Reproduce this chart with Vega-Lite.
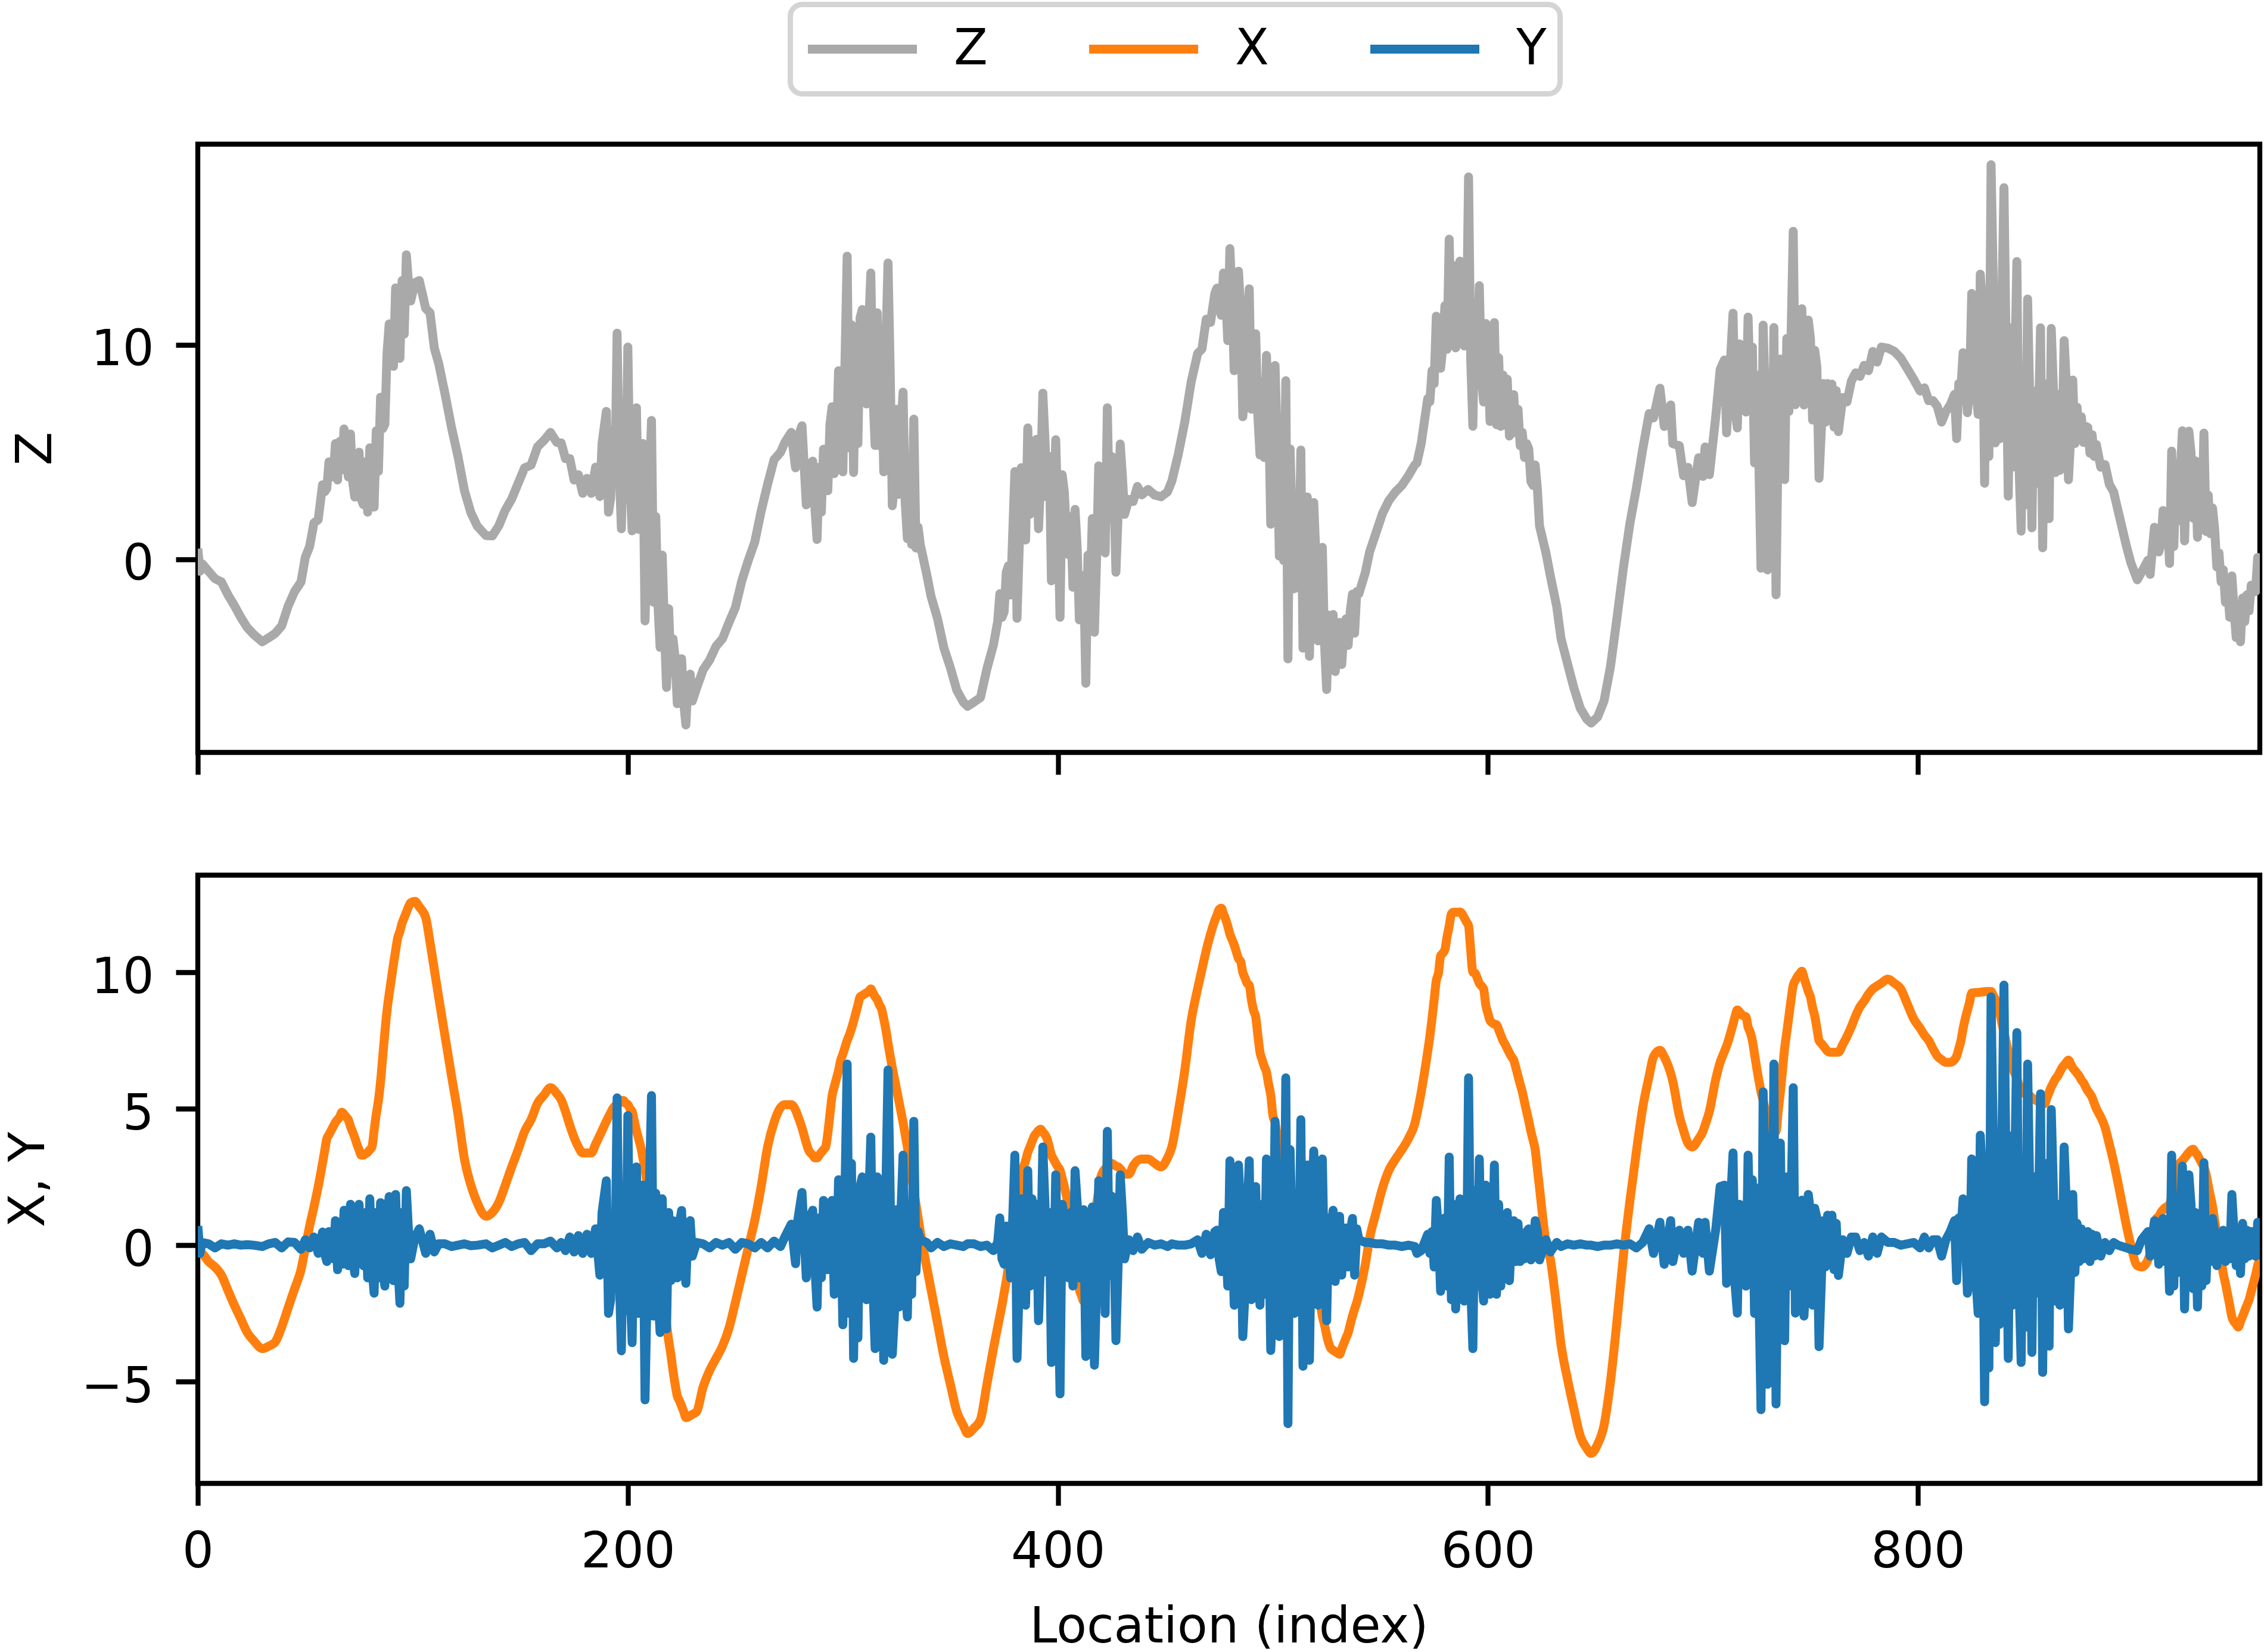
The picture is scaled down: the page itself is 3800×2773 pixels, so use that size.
{
"$schema": "https://vega.github.io/schema/vega-lite/v6.json",
"padding": {"left": 2, "top": 3, "right": 2, "bottom": 2},
"background": "white",
"config": {
  "font": "DejaVu Sans",
  "view": {"stroke": "black", "strokeWidth": 8.3},
  "axis": {"domain": false, "grid": false, "tickColor": "black", "tickWidth": 8.3, "tickSize": 37, "labelFont": "DejaVu Sans", "labelFontSize": 83, "labelColor": "black", "titleFont": "DejaVu Sans", "titleFontSize": 83, "titleFontWeight": "normal", "titleColor": "black", "labelFlush": false, "labelOverlap": false},
  "legend": {"strokeColor": "#d4d4d4", "strokeWidth": 9, "cornerRadius": 20, "padding": 22, "fillColor": "white"},
  "line": {"strokeWidth": 15, "strokeJoin": "round", "strokeCap": "butt"}
},
"datasets": {"d": [
{"i":0,"X":-0.2,"Y":0.7,"Z":0.5},{"i":1,"X":-0.25,"Y":-0.3,"Z":-0.55},{"i":2,"X":-0.3,"Y":0.1,"Z":-0.2},{"i":5,"X":-0.6,"Y":0.05,"Z":-0.55},{"i":8,"X":-0.8,"Y":-0.1,"Z":-0.9},{"i":11,"X":-1.1,"Y":0.05,"Z":-1.05},{"i":14,"X":-1.65,"Y":0,"Z":-1.65},{"i":17,"X":-2.2,"Y":0.05,"Z":-2.15},{"i":20,"X":-2.7,"Y":0,"Z":-2.7},{"i":23,"X":-3.2,"Y":0.02,"Z":-3.18},{"i":26,"X":-3.5,"Y":0,"Z":-3.5},{"i":30,"X":-3.79,"Y":-0.05,"Z":-3.84},{"i":33,"X":-3.7,"Y":0.05,"Z":-3.65},{"i":36,"X":-3.55,"Y":0.1,"Z":-3.45},{"i":39,"X":-3.0,"Y":-0.1,"Z":-3.1},{"i":42,"X":-2.3,"Y":0.12,"Z":-2.18},{"i":45,"X":-1.6,"Y":0.1,"Z":-1.5},{"i":48,"X":-0.9,"Y":-0.15,"Z":-1.05},{"i":50,"X":-0.1,"Y":0.2,"Z":0.1},{"i":52,"X":0.7,"Y":-0.1,"Z":0.6},{"i":54,"X":1.4,"Y":0.3,"Z":1.7},{"i":56,"X":2.15,"Y":-0.3,"Z":1.85},{"i":58,"X":3.0,"Y":0.48,"Z":3.48},{"i":60,"X":3.9,"Y":-0.6,"Z":3.3},{"i":62,"X":4.2,"Y":0.3,"Z":4.5},{"i":64,"X":4.5,"Y":0.9,"Z":5.4},{"i":65,"X":4.6,"Y":-0.9,"Z":3.7},{"i":68,"X":4.8,"Y":1.28,"Z":6.08},{"i":70,"X":4.6,"Y":-0.75,"Z":3.85},{"i":71,"X":4.35,"Y":1.5,"Z":5.85},{"i":73,"X":3.95,"Y":-1.04,"Z":2.91},{"i":75,"X":3.5,"Y":1.5,"Z":5.0},{"i":77,"X":3.3,"Y":-0.75,"Z":2.55},{"i":80,"X":3.5,"Y":1.7,"Z":5.2},{"i":82,"X":4.2,"Y":-1.76,"Z":2.44},{"i":85,"X":6.0,"Y":1.56,"Z":7.56},{"i":87,"X":7.8,"Y":-1.5,"Z":6.3},{"i":89,"X":9.2,"Y":1.78,"Z":10.98},{"i":91,"X":10.3,"Y":-1.3,"Z":9.0},{"i":92,"X":10.8,"Y":1.86,"Z":12.66},{"i":94,"X":11.5,"Y":-2.13,"Z":9.37},{"i":97,"X":12.2,"Y":2.0,"Z":14.2},{"i":99,"X":12.55,"Y":-0.5,"Z":12.05},{"i":101,"X":12.6,"Y":0.3,"Z":12.9},{"i":103,"X":12.4,"Y":0.6,"Z":13.0},{"i":106,"X":12.0,"Y":-0.3,"Z":11.7},{"i":108,"X":11.1,"Y":0.4,"Z":11.5},{"i":110,"X":10.1,"Y":-0.25,"Z":9.85},{"i":112,"X":9.1,"Y":0.05,"Z":9.15},
{"i":115,"X":7.65,"Y":0.05,"Z":7.7},{"i":118,"X":6.2,"Y":-0.05,"Z":6.15},{"i":121,"X":4.8,"Y":0,"Z":4.8},{"i":124,"X":3.16,"Y":0.05,"Z":3.21},{"i":127,"X":2.2,"Y":-0.02,"Z":2.18},{"i":130,"X":1.55,"Y":0,"Z":1.55},{"i":134,"X":1.06,"Y":0.05,"Z":1.11},{"i":137,"X":1.2,"Y":-0.1,"Z":1.1},{"i":140,"X":1.57,"Y":0,"Z":1.57},{"i":143,"X":2.2,"Y":0.1,"Z":2.3},{"i":146,"X":2.87,"Y":-0.05,"Z":2.82},{"i":149,"X":3.5,"Y":0.05,"Z":3.55},{"i":152,"X":4.17,"Y":0.1,"Z":4.27},{"i":155,"X":4.6,"Y":-0.2,"Z":4.4},{"i":158,"X":5.2,"Y":0.05,"Z":5.25},{"i":161,"X":5.5,"Y":0.05,"Z":5.55},{"i":164,"X":5.77,"Y":0.15,"Z":5.92},{"i":167,"X":5.55,"Y":-0.1,"Z":5.45},{"i":169,"X":5.33,"Y":0.1,"Z":5.43},{"i":171,"X":4.9,"Y":-0.2,"Z":4.7},{"i":173,"X":4.4,"Y":0.3,"Z":4.7},{"i":175,"X":3.95,"Y":-0.25,"Z":3.7},{"i":177,"X":3.6,"Y":0.35,"Z":3.95},{"i":179,"X":3.38,"Y":-0.3,"Z":3.08},{"i":181,"X":3.38,"Y":0.4,"Z":3.78},{"i":183,"X":3.38,"Y":-0.3,"Z":3.08},{"i":185,"X":3.7,"Y":0.6,"Z":4.3},{"i":187,"X":4.03,"Y":-1.1,"Z":2.93},{"i":190,"X":4.54,"Y":2.36,"Z":6.9},{"i":191,"X":4.7,"Y":-2.5,"Z":2.2},{"i":193,"X":5.0,"Y":1.0,"Z":6.0},{"i":195,"X":5.15,"Y":5.4,"Z":10.55},{"i":197,"X":5.3,"Y":-3.87,"Z":1.43},{"i":200,"X":5.15,"Y":4.75,"Z":9.9},{"i":202,"X":4.9,"Y":-3.57,"Z":1.33},{"i":204,"X":4.2,"Y":2.87,"Z":7.07},{"i":206,"X":3.6,"Y":-1.0,"Z":2.6},{"i":208,"X":2.8,"Y":-5.67,"Z":-2.87},{"i":210,"X":1.6,"Y":2.0,"Z":3.6},{"i":211,"X":1.0,"Y":5.48,"Z":6.48},{"i":214,"X":-0.3,"Y":-1.8,"Z":-2.1},{"i":216,"X":-1.5,"Y":1.7,"Z":0.2},{"i":218,"X":-2.9,"Y":-3.07,"Z":-5.97},{"i":221,"X":-4.6,"Y":0.9,"Z":-3.7},{"i":223,"X":-5.53,"Y":-1.2,"Z":-6.73},{"i":225,"X":-5.9,"Y":1.27,"Z":-4.63},{"i":227,"X":-6.32,"Y":-1.4,"Z":-7.72},{"i":229,"X":-6.25,"Y":0.9,"Z":-5.35},{"i":230,"X":-6.2,"Y":-0.4,"Z":-6.6},{"i":232,"X":-6.1,"Y":0.1,"Z":-6.0},
{"i":235,"X":-5.2,"Y":0.05,"Z":-5.15},{"i":238,"X":-4.6,"Y":-0.1,"Z":-4.7},{"i":241,"X":-4.15,"Y":0.1,"Z":-4.05},{"i":244,"X":-3.7,"Y":0,"Z":-3.7},{"i":247,"X":-3.05,"Y":0.1,"Z":-2.95},{"i":250,"X":-2.1,"Y":-0.15,"Z":-2.25},{"i":253,"X":-1.1,"Y":0.1,"Z":-1.0},{"i":256,"X":-0.1,"Y":0.05,"Z":-0.05},{"i":259,"X":0.9,"Y":-0.1,"Z":0.8},{"i":262,"X":2.15,"Y":0.1,"Z":2.25},{"i":265,"X":3.6,"Y":-0.1,"Z":3.5},{"i":268,"X":4.5,"Y":0.15,"Z":4.65},{"i":271,"X":5.04,"Y":-0.05,"Z":4.99},{"i":273,"X":5.15,"Y":0.3,"Z":5.45},{"i":276,"X":5.15,"Y":0.77,"Z":5.92},{"i":278,"X":4.95,"Y":-0.68,"Z":4.27},{"i":281,"X":4.3,"Y":1.93,"Z":6.23},{"i":283,"X":3.74,"Y":-1.2,"Z":2.54},{"i":286,"X":3.3,"Y":1.28,"Z":4.58},{"i":288,"X":3.2,"Y":-2.27,"Z":0.93},{"i":291,"X":3.5,"Y":1.64,"Z":5.14},{"i":293,"X":4.1,"Y":-0.9,"Z":3.2},{"i":295,"X":5.48,"Y":1.64,"Z":7.12},{"i":297,"X":6.1,"Y":-0.9,"Z":5.2},{"i":299,"X":6.78,"Y":0.9,"Z":7.68},{"i":300,"X":7.0,"Y":-2.92,"Z":4.08},{"i":302,"X":7.5,"Y":6.64,"Z":14.14},{"i":305,"X":8.2,"Y":-4.15,"Z":4.05},{"i":308,"X":9.1,"Y":2.15,"Z":11.25},{"i":310,"X":9.2,"Y":-1.2,"Z":8.0},{"i":313,"X":9.39,"Y":3.96,"Z":13.35},{"i":315,"X":9.1,"Y":-3.79,"Z":5.31},{"i":318,"X":8.66,"Y":0.8,"Z":9.46},{"i":319,"X":8.3,"Y":-4.22,"Z":4.08},{"i":321,"X":7.4,"Y":6.42,"Z":13.82},{"i":323,"X":6.5,"Y":-4.0,"Z":2.5},{"i":325,"X":5.7,"Y":1.3,"Z":7.0},{"i":326,"X":5.3,"Y":-2.27,"Z":3.03},{"i":328,"X":4.5,"Y":3.3,"Z":7.8},{"i":330,"X":3.6,"Y":-2.63,"Z":0.97},{"i":333,"X":2.0,"Y":4.54,"Z":6.54},{"i":334,"X":1.5,"Y":-0.97,"Z":0.53},{"i":336,"X":0.5,"Y":0.2,"Z":0.7},
{"i":339,"X":-0.8,"Y":0.1,"Z":-0.7},{"i":341,"X":-1.62,"Y":-0.1,"Z":-1.72},{"i":344,"X":-2.85,"Y":0.1,"Z":-2.75},{"i":347,"X":-4.08,"Y":-0.05,"Z":-4.13},{"i":350,"X":-5.1,"Y":0.05,"Z":-5.05},{"i":353,"X":-6.1,"Y":0,"Z":-6.1},{"i":356,"X":-6.6,"Y":-0.05,"Z":-6.65},{"i":358,"X":-6.9,"Y":0.05,"Z":-6.85},{"i":361,"X":-6.7,"Y":0.05,"Z":-6.65},{"i":364,"X":-6.39,"Y":-0.05,"Z":-6.44},{"i":367,"X":-5.1,"Y":0,"Z":-5.1},{"i":370,"X":-3.8,"Y":-0.2,"Z":-4.0},{"i":372,"X":-3.0,"Y":0.1,"Z":-2.9},{"i":373,"X":-2.6,"Y":1.0,"Z":-1.6},{"i":375,"X":-1.75,"Y":-0.7,"Z":-2.45},{"i":377,"X":-0.8,"Y":0.5,"Z":-0.3},{"i":380,"X":0.8,"Y":3.3,"Z":4.1},{"i":381,"X":1.4,"Y":-4.15,"Z":-2.75},{"i":383,"X":2.58,"Y":1.7,"Z":4.28},{"i":385,"X":3.1,"Y":-2.2,"Z":0.9},{"i":386,"X":3.4,"Y":2.73,"Z":6.13},{"i":388,"X":3.8,"Y":1.7,"Z":5.5},{"i":391,"X":4.2,"Y":-2.77,"Z":1.43},{"i":393,"X":4.15,"Y":3.6,"Z":7.75},{"i":395,"X":3.9,"Y":-1.0,"Z":2.9},{"i":397,"X":3.3,"Y":-4.3,"Z":-1.0},{"i":399,"X":3.0,"Y":2.58,"Z":5.58},{"i":401,"X":2.75,"Y":-5.45,"Z":-2.7},{"i":403,"X":2.15,"Y":1.0,"Z":3.15},{"i":405,"X":1.42,"Y":-1.2,"Z":0.22},{"i":408,"X":-0.4,"Y":2.73,"Z":2.33},{"i":410,"X":-1.62,"Y":-1.2,"Z":-2.82},{"i":412,"X":-2.05,"Y":1.3,"Z":-0.75},{"i":413,"X":-1.7,"Y":-4.08,"Z":-5.78},{"i":416,"X":0.5,"Y":1.4,"Z":1.9},{"i":417,"X":1.0,"Y":-4.4,"Z":-3.4},{"i":419,"X":2.0,"Y":2.36,"Z":4.36},{"i":420,"X":2.5,"Y":-1.2,"Z":1.3},{"i":423,"X":2.9,"Y":4.17,"Z":7.07},{"i":424,"X":3.0,"Y":-1.1,"Z":1.9},{"i":427,"X":2.9,"Y":-3.5,"Z":-0.6},{"i":429,"X":2.8,"Y":2.58,"Z":5.38},{"i":431,"X":2.6,"Y":-0.5,"Z":2.1},
{"i":433,"X":2.6,"Y":0.2,"Z":2.8},{"i":435,"X":2.9,"Y":-0.2,"Z":2.7},{"i":437,"X":3.1,"Y":0.3,"Z":3.4},{"i":439,"X":3.16,"Y":-0.15,"Z":3.01},{"i":442,"X":3.16,"Y":0.1,"Z":3.26},{"i":445,"X":3.0,"Y":0,"Z":3.0},{"i":448,"X":2.87,"Y":0.05,"Z":2.92},{"i":451,"X":3.2,"Y":-0.05,"Z":3.15},{"i":453,"X":3.6,"Y":0.05,"Z":3.65},{"i":456,"X":4.9,"Y":0,"Z":4.9},{"i":459,"X":6.4,"Y":0,"Z":6.4},{"i":462,"X":8.23,"Y":0.05,"Z":8.28},{"i":465,"X":9.4,"Y":0.2,"Z":9.6},{"i":467,"X":10.11,"Y":-0.3,"Z":9.81},{"i":469,"X":10.8,"Y":0.4,"Z":11.2},{"i":471,"X":11.4,"Y":-0.35,"Z":11.05},{"i":473,"X":11.9,"Y":0.5,"Z":12.4},{"i":474,"X":12.1,"Y":0.55,"Z":12.65},{"i":476,"X":12.35,"Y":-0.97,"Z":11.38},{"i":478,"X":11.95,"Y":0.5,"Z":12.45},{"i":480,"X":11.4,"Y":3.09,"Z":14.49},{"i":482,"X":11.0,"Y":-2.2,"Z":8.8},{"i":484,"X":10.5,"Y":2.94,"Z":13.44},{"i":486,"X":10.0,"Y":-3.35,"Z":6.65},{"i":488,"X":9.6,"Y":1.0,"Z":10.6},{"i":489,"X":9.53,"Y":3.09,"Z":12.62},{"i":491,"X":8.6,"Y":-1.47,"Z":7.13},{"i":492,"X":8.37,"Y":2.15,"Z":10.52},{"i":494,"X":7.07,"Y":-2.2,"Z":4.87},{"i":497,"X":6.35,"Y":3.16,"Z":9.51},{"i":499,"X":5.5,"Y":-3.86,"Z":1.64},{"i":501,"X":4.5,"Y":4.54,"Z":9.04},{"i":503,"X":3.5,"Y":-3.35,"Z":0.15},{"i":506,"X":2.2,"Y":6.13,"Z":8.33},{"i":507,"X":1.9,"Y":-6.54,"Z":-4.64},{"i":509,"X":1.4,"Y":0,"Z":1.4},{"i":511,"X":0.9,"Y":1.0,"Z":1.9},{"i":513,"X":0.5,"Y":4.6,"Z":5.1},{"i":514,"X":0.3,"Y":-4.44,"Z":-4.14},{"i":516,"X":-0.03,"Y":2.94,"Z":2.91},{"i":517,"X":-0.3,"Y":-4.22,"Z":-4.52},{"i":519,"X":-0.8,"Y":3.45,"Z":2.65},{"i":521,"X":-1.6,"Y":-2.2,"Z":-3.8},{"i":523,"X":-2.6,"Y":3.16,"Z":0.56},{"i":525,"X":-3.3,"Y":-2.77,"Z":-6.07},{"i":527,"X":-3.79,"Y":0.5,"Z":-3.29},{"i":528,"X":-3.85,"Y":1.28,"Z":-2.57},{"i":529,"X":-3.9,"Y":-1.33,"Z":-5.23},{"i":531,"X":-4.0,"Y":1.06,"Z":-2.94},{"i":532,"X":-3.8,"Y":-1.1,"Z":-4.9},{"i":534,"X":-3.4,"Y":0.63,"Z":-2.77},{"i":537,"X":-2.6,"Y":0.98,"Z":-1.62},{"i":538,"X":-2.34,"Y":-1.1,"Z":-3.44},{"i":540,"X":-1.8,"Y":0.2,"Z":-1.6},
{"i":543,"X":-0.7,"Y":0.1,"Z":-0.6},{"i":545,"X":0.26,"Y":0.1,"Z":0.36},{"i":548,"X":1.2,"Y":0.05,"Z":1.25},{"i":551,"X":2.1,"Y":0.05,"Z":2.15},{"i":554,"X":2.75,"Y":0,"Z":2.75},{"i":557,"X":3.15,"Y":0,"Z":3.15},{"i":560,"X":3.5,"Y":-0.05,"Z":3.45},{"i":563,"X":3.9,"Y":0,"Z":3.9},{"i":566,"X":4.46,"Y":-0.05,"Z":4.41},{"i":567,"X":4.8,"Y":-0.3,"Z":4.5},{"i":569,"X":5.62,"Y":-0.2,"Z":5.42},{"i":572,"X":7.1,"Y":0.4,"Z":7.5},{"i":573,"X":7.65,"Y":-0.3,"Z":7.35},{"i":576,"X":9.7,"Y":1.64,"Z":11.34},{"i":578,"X":10.6,"Y":-1.69,"Z":8.91},{"i":580,"X":10.83,"Y":1.0,"Z":11.83},{"i":582,"X":11.7,"Y":3.23,"Z":14.93},{"i":585,"X":12.2,"Y":-2.34,"Z":9.86},{"i":587,"X":12.21,"Y":1.7,"Z":13.91},{"i":589,"X":12.0,"Y":-2.05,"Z":9.95},{"i":591,"X":11.7,"Y":6.13,"Z":17.83},{"i":593,"X":10.0,"Y":-3.79,"Z":6.21},{"i":596,"X":9.6,"Y":3.16,"Z":12.76},{"i":598,"X":9.39,"Y":-2.05,"Z":7.34},{"i":600,"X":8.5,"Y":1.0,"Z":9.5},{"i":603,"X":8.1,"Y":2.94,"Z":11.04},{"i":604,"X":8.08,"Y":-1.8,"Z":6.28},{"i":607,"X":7.5,"Y":1.1,"Z":8.6},{"i":608,"X":7.36,"Y":-1.1,"Z":6.26},{"i":612,"X":6.78,"Y":0.9,"Z":7.68},{"i":613,"X":6.5,"Y":-0.6,"Z":5.9},{"i":616,"X":5.62,"Y":0.3,"Z":5.92},{"i":618,"X":4.9,"Y":0.5,"Z":5.4},{"i":620,"X":4.17,"Y":-0.54,"Z":3.63},{"i":622,"X":3.5,"Y":0.9,"Z":4.4},{"i":624,"X":2.1,"Y":-0.54,"Z":1.56},{"i":627,"X":0.1,"Y":0.2,"Z":0.3},{"i":629,"X":-0.5,"Y":-0.25,"Z":-0.75},
{"i":632,"X":-2.3,"Y":0.1,"Z":-2.2},{"i":634,"X":-3.64,"Y":-0.05,"Z":-3.69},{"i":637,"X":-4.9,"Y":0.05,"Z":-4.85},{"i":640,"X":-6.0,"Y":0,"Z":-6.0},{"i":643,"X":-7.0,"Y":0.05,"Z":-6.95},{"i":646,"X":-7.45,"Y":0,"Z":-7.45},{"i":648,"X":-7.63,"Y":0,"Z":-7.63},{"i":651,"X":-7.3,"Y":-0.05,"Z":-7.35},{"i":654,"X":-6.6,"Y":0,"Z":-6.6},{"i":657,"X":-5.0,"Y":0,"Z":-5.0},{"i":660,"X":-2.8,"Y":0.05,"Z":-2.75},{"i":663,"X":-0.4,"Y":0,"Z":-0.4},{"i":666,"X":1.6,"Y":0.05,"Z":1.65},{"i":669,"X":3.4,"Y":-0.1,"Z":3.3},{"i":672,"X":5.04,"Y":0.1,"Z":5.14},{"i":675,"X":6.2,"Y":0.6,"Z":6.8},{"i":677,"X":6.9,"Y":-0.3,"Z":6.6},{"i":680,"X":7.14,"Y":0.84,"Z":7.98},{"i":682,"X":6.9,"Y":-0.7,"Z":6.2},{"i":685,"X":6.3,"Y":0.9,"Z":7.2},{"i":686,"X":6.0,"Y":-0.6,"Z":5.4},{"i":689,"X":4.75,"Y":0.55,"Z":5.3},{"i":691,"X":4.2,"Y":-0.3,"Z":3.9},{"i":693,"X":3.74,"Y":0.55,"Z":4.29},{"i":695,"X":3.6,"Y":-0.95,"Z":2.65},{"i":698,"X":3.9,"Y":0.84,"Z":4.74},{"i":700,"X":4.17,"Y":-0.3,"Z":3.87},{"i":701,"X":4.4,"Y":0.84,"Z":5.24},{"i":703,"X":4.9,"Y":-0.95,"Z":3.95},{"i":706,"X":6.1,"Y":0.6,"Z":6.7},{"i":708,"X":6.7,"Y":2.15,"Z":8.85},{"i":710,"X":7.1,"Y":2.2,"Z":9.3},{"i":711,"X":7.3,"Y":-1.4,"Z":5.9},{"i":714,"X":8.1,"Y":3.38,"Z":11.48},{"i":716,"X":8.62,"Y":-2.49,"Z":6.13},{"i":719,"X":8.4,"Y":-0.75,"Z":7.65},{"i":721,"X":8.0,"Y":3.3,"Z":11.3},{"i":722,"X":7.8,"Y":0,"Z":7.8},{"i":723,"X":7.5,"Y":2.4,"Z":9.9},{"i":725,"X":6.5,"Y":2.1,"Z":8.6},{"i":727,"X":5.62,"Y":-6.03,"Z":-0.41},{"i":728,"X":5.3,"Y":5.62,"Z":10.92},{"i":730,"X":4.61,"Y":-5.1,"Z":-0.49},{"i":733,"X":4.17,"Y":6.64,"Z":10.81},{"i":734,"X":4.17,"Y":-5.82,"Z":-1.65},{"i":736,"X":5.6,"Y":3.74,"Z":9.34},{"i":738,"X":7.22,"Y":-3.5,"Z":3.72},{"i":742,"X":9.53,"Y":5.77,"Z":15.3},{"i":743,"X":9.7,"Y":-2.49,"Z":7.21},{"i":746,"X":10.04,"Y":1.65,"Z":11.69},{"i":747,"X":9.8,"Y":-2.6,"Z":7.2},{"i":749,"X":9.3,"Y":1.86,"Z":11.16},{"i":751,"X":8.7,"Y":-2.2,"Z":6.5},{"i":752,"X":8.4,"Y":1.35,"Z":9.75},{"i":754,"X":7.5,"Y":-3.72,"Z":3.78},{"i":756,"X":7.3,"Y":0.9,"Z":8.2},{"i":758,"X":7.1,"Y":1.1,"Z":8.2},{"i":760,"X":7.07,"Y":1.1,"Z":8.17},{"i":761,"X":7.07,"Y":-0.9,"Z":6.17},{"i":763,"X":7.07,"Y":-1.11,"Z":5.96},
{"i":765,"X":7.35,"Y":0.2,"Z":7.55},{"i":767,"X":7.65,"Y":-0.3,"Z":7.35},{"i":769,"X":8.0,"Y":0.3,"Z":8.3},{"i":771,"X":8.4,"Y":0.3,"Z":8.7},{"i":773,"X":8.73,"Y":-0.2,"Z":8.53},{"i":775,"X":8.95,"Y":0.1,"Z":9.05},{"i":777,"X":9.2,"Y":-0.4,"Z":8.8},{"i":779,"X":9.39,"Y":0.3,"Z":9.69},{"i":781,"X":9.5,"Y":-0.3,"Z":9.2},{"i":783,"X":9.6,"Y":0.3,"Z":9.9},{"i":786,"X":9.75,"Y":0.1,"Z":9.85},{"i":789,"X":9.6,"Y":0.1,"Z":9.7},{"i":792,"X":9.39,"Y":0,"Z":9.39},{"i":795,"X":8.85,"Y":0.05,"Z":8.9},{"i":798,"X":8.3,"Y":0.1,"Z":8.4},{"i":801,"X":7.95,"Y":-0.1,"Z":7.85},{"i":803,"X":7.7,"Y":0.3,"Z":8.0},{"i":805,"X":7.5,"Y":-0.1,"Z":7.4},{"i":807,"X":7.2,"Y":0.2,"Z":7.4},{"i":809,"X":6.93,"Y":0.2,"Z":7.13},{"i":811,"X":6.8,"Y":-0.4,"Z":6.4},{"i":813,"X":6.7,"Y":0.2,"Z":6.9},{"i":815,"X":6.7,"Y":0.5,"Z":7.2},{"i":817,"X":6.8,"Y":0.9,"Z":7.7},{"i":818,"X":6.93,"Y":-1.3,"Z":5.63},{"i":820,"X":7.5,"Y":0.5,"Z":8.0},{"i":821,"X":7.94,"Y":1.7,"Z":9.64},{"i":823,"X":8.6,"Y":-1.76,"Z":6.84},{"i":825,"X":9.24,"Y":3.16,"Z":12.4},{"i":827,"X":9.26,"Y":-1.3,"Z":7.96},{"i":829,"X":9.27,"Y":4.03,"Z":13.3},{"i":831,"X":9.29,"Y":-5.74,"Z":3.55},{"i":834,"X":9.3,"Y":9.1,"Z":18.4},{"i":836,"X":9.0,"Y":-3.57,"Z":5.43},{"i":838,"X":8.52,"Y":-2.9,"Z":5.62},{"i":840,"X":7.8,"Y":9.53,"Z":17.33},{"i":842,"X":7.1,"Y":-4.15,"Z":2.95},{"i":844,"X":6.5,"Y":-2.2,"Z":4.3},{"i":846,"X":6.1,"Y":7.79,"Z":13.89},{"i":848,"X":5.62,"Y":-4.3,"Z":1.32},{"i":851,"X":5.5,"Y":6.64,"Z":12.14},{"i":853,"X":5.4,"Y":-3.93,"Z":1.47},{"i":855,"X":5.3,"Y":-1.76,"Z":3.54},{"i":857,"X":5.25,"Y":5.55,"Z":10.8},{"i":858,"X":5.2,"Y":-4.66,"Z":0.54},{"i":861,"X":5.6,"Y":-3.7,"Z":1.9},{"i":862,"X":5.8,"Y":4.97,"Z":10.77},{"i":864,"X":6.1,"Y":-2.05,"Z":4.05},{"i":866,"X":6.35,"Y":-2.2,"Z":4.15},{"i":868,"X":6.6,"Y":3.6,"Z":10.2},{"i":870,"X":6.78,"Y":-3.07,"Z":3.71},{"i":872,"X":6.5,"Y":1.86,"Z":8.36},{"i":875,"X":6.2,"Y":-0.6,"Z":5.6},{"i":878,"X":5.8,"Y":0.4,"Z":6.2},{"i":880,"X":5.55,"Y":-0.6,"Z":4.95},{"i":883,"X":5.0,"Y":0.35,"Z":5.35},
{"i":885,"X":4.7,"Y":-0.4,"Z":4.3},{"i":887,"X":4.32,"Y":0.1,"Z":4.42},{"i":889,"X":3.7,"Y":-0.2,"Z":3.5},{"i":891,"X":3.05,"Y":0.1,"Z":3.15},{"i":893,"X":2.3,"Y":0,"Z":2.3},{"i":895,"X":1.5,"Y":-0.05,"Z":1.45},{"i":897,"X":0.7,"Y":-0.1,"Z":0.6},{"i":899,"X":0.0,"Y":-0.15,"Z":-0.15},{"i":902,"X":-0.75,"Y":-0.2,"Z":-0.95},{"i":904,"X":-0.8,"Y":0.2,"Z":-0.6},{"i":907,"X":-0.53,"Y":0.5,"Z":-0.03},{"i":908,"X":-0.3,"Y":-0.4,"Z":-0.7},{"i":910,"X":0.6,"Y":0.9,"Z":1.5},{"i":912,"X":1.05,"Y":-0.7,"Z":0.35},{"i":914,"X":1.3,"Y":0.98,"Z":2.28},{"i":917,"X":1.5,"Y":-1.69,"Z":-0.19},{"i":918,"X":1.75,"Y":3.3,"Z":5.05},{"i":921,"X":2.8,"Y":-1.0,"Z":1.8},{"i":923,"X":3.1,"Y":2.9,"Z":6.0},{"i":924,"X":3.2,"Y":-2.34,"Z":0.86},{"i":926,"X":3.4,"Y":2.58,"Z":5.98},{"i":928,"X":3.52,"Y":-1.6,"Z":1.92},{"i":930,"X":3.3,"Y":-2.27,"Z":1.03},{"i":933,"X":2.87,"Y":3.02,"Z":5.89},{"i":934,"X":2.6,"Y":-1.3,"Z":1.3},{"i":937,"X":1.42,"Y":0.98,"Z":2.4},{"i":939,"X":0.4,"Y":-0.75,"Z":-0.35},{"i":942,"X":-1.04,"Y":0.55,"Z":-0.49},{"i":943,"X":-1.4,"Y":-0.6,"Z":-2.0},{"i":946,"X":-2.63,"Y":1.86,"Z":-0.77},{"i":948,"X":-2.9,"Y":-0.75,"Z":-3.65},{"i":950,"X":-2.8,"Y":-1.04,"Z":-3.84},{"i":951,"X":-2.6,"Y":0.8,"Z":-1.8},{"i":953,"X":-2.2,"Y":0.55,"Z":-1.65},{"i":956,"X":-1.4,"Y":-0.03,"Z":-1.43},{"i":958,"X":-0.75,"Y":0.84,"Z":0.09},{"i":959,"X":-0.5,"Y":0.3,"Z":-0.2},
{"i":59,"X":3.45,"Y":-0.3,"Z":3.15},{"i":61,"X":4.05,"Y":0.5,"Z":4.55},{"i":63,"X":4.35,"Y":-0.5,"Z":3.85},{"i":66,"X":4.7,"Y":0.8,"Z":5.5},{"i":67,"X":4.87,"Y":-0.7,"Z":4.17},{"i":69,"X":4.7,"Y":0.3,"Z":5.0},{"i":72,"X":4.15,"Y":-0.5,"Z":3.65},{"i":74,"X":3.7,"Y":0.8,"Z":4.5},{"i":76,"X":3.3,"Y":-0.5,"Z":2.8},{"i":78,"X":3.35,"Y":1.2,"Z":4.55},{"i":79,"X":3.4,"Y":-1.2,"Z":2.2},{"i":81,"X":3.6,"Y":-0.8,"Z":2.8},{"i":83,"X":4.8,"Y":1.2,"Z":6.0},{"i":84,"X":5.3,"Y":-1.2,"Z":4.1},{"i":86,"X":6.9,"Y":-0.8,"Z":6.1},{"i":88,"X":8.6,"Y":1.0,"Z":9.6},{"i":90,"X":9.75,"Y":0.6,"Z":10.35},{"i":93,"X":11.27,"Y":-0.6,"Z":10.67},{"i":95,"X":11.8,"Y":1.2,"Z":13.0},{"i":96,"X":12.0,"Y":-1.5,"Z":10.5},{"i":98,"X":12.4,"Y":0.5,"Z":12.9},
{"i":188,"X":4.2,"Y":1.2,"Z":5.4},{"i":192,"X":4.85,"Y":-2.0,"Z":2.85},{"i":194,"X":5.1,"Y":-1.5,"Z":3.6},{"i":196,"X":5.2,"Y":-1.0,"Z":4.2},{"i":198,"X":5.3,"Y":2.0,"Z":7.3},{"i":199,"X":5.2,"Y":-2.4,"Z":2.8},{"i":201,"X":5.0,"Y":-1.5,"Z":3.5},{"i":203,"X":4.55,"Y":1.5,"Z":6.05},{"i":205,"X":3.9,"Y":-2.5,"Z":1.4},{"i":207,"X":3.2,"Y":2.2,"Z":5.4},{"i":209,"X":2.2,"Y":-1.5,"Z":0.7},{"i":212,"X":0.6,"Y":-2.6,"Z":-2.0},{"i":213,"X":0.1,"Y":1.9,"Z":2.0},{"i":215,"X":-0.9,"Y":-3.2,"Z":-4.1},{"i":217,"X":-2.2,"Y":-1.0,"Z":-3.2},{"i":219,"X":-3.5,"Y":1.2,"Z":-2.3},{"i":220,"X":-4.0,"Y":-1.3,"Z":-5.3},{"i":222,"X":-5.1,"Y":0.5,"Z":-4.6},{"i":224,"X":-5.7,"Y":0.8,"Z":-4.9},{"i":226,"X":-6.1,"Y":-0.6,"Z":-6.7},{"i":228,"X":-6.3,"Y":0.7,"Z":-5.6},
{"i":279,"X":4.75,"Y":0.9,"Z":5.65},{"i":284,"X":3.5,"Y":0.9,"Z":4.4},{"i":287,"X":3.2,"Y":-0.8,"Z":2.4},{"i":289,"X":3.3,"Y":1.0,"Z":4.3},{"i":290,"X":3.4,"Y":-1.2,"Z":2.2},{"i":292,"X":3.6,"Y":0.8,"Z":4.4},{"i":294,"X":4.8,"Y":1.5,"Z":6.3},{"i":296,"X":5.8,"Y":-1.8,"Z":4.0},{"i":298,"X":6.4,"Y":2.4,"Z":8.8},{"i":301,"X":7.25,"Y":2.0,"Z":9.25},{"i":303,"X":7.7,"Y":-2.5,"Z":5.2},{"i":304,"X":7.94,"Y":3.0,"Z":10.94},{"i":306,"X":8.5,"Y":1.5,"Z":10.0},{"i":307,"X":8.8,"Y":-3.4,"Z":5.4},{"i":309,"X":9.15,"Y":2.5,"Z":11.65},{"i":311,"X":9.25,"Y":-2.0,"Z":7.25},{"i":312,"X":9.3,"Y":1.5,"Z":10.8},{"i":314,"X":9.25,"Y":-1.5,"Z":7.75},{"i":316,"X":9.0,"Y":2.5,"Z":11.5},{"i":317,"X":8.8,"Y":-3.5,"Z":5.3},{"i":320,"X":7.9,"Y":2.0,"Z":9.9},{"i":322,"X":6.93,"Y":2.0,"Z":8.93},{"i":324,"X":6.1,"Y":-2.5,"Z":3.6},{"i":327,"X":4.9,"Y":1.2,"Z":6.1},{"i":329,"X":4.05,"Y":-1.4,"Z":2.65},{"i":331,"X":3.1,"Y":1.5,"Z":4.6},{"i":332,"X":2.5,"Y":-1.8,"Z":0.7},{"i":335,"X":1.0,"Y":0.5,"Z":1.5},
{"i":374,"X":-2.2,"Y":-0.5,"Z":-2.7},{"i":376,"X":-1.3,"Y":0.7,"Z":-0.6},{"i":378,"X":-0.46,"Y":-1.2,"Z":-1.66},{"i":379,"X":0.2,"Y":1.0,"Z":1.2},{"i":382,"X":2.0,"Y":-1.5,"Z":0.5},{"i":384,"X":2.85,"Y":0.8,"Z":3.65},{"i":387,"X":3.6,"Y":-1.5,"Z":2.1},{"i":389,"X":4.0,"Y":-1.0,"Z":3.0},{"i":390,"X":4.1,"Y":1.5,"Z":5.6},{"i":392,"X":4.25,"Y":-0.5,"Z":3.75},{"i":394,"X":4.05,"Y":1.5,"Z":5.55},{"i":396,"X":3.6,"Y":1.2,"Z":4.8},{"i":398,"X":3.15,"Y":-1.5,"Z":1.65},{"i":400,"X":2.87,"Y":-1.0,"Z":1.87},{"i":402,"X":2.45,"Y":1.5,"Z":3.95},{"i":404,"X":1.8,"Y":-0.8,"Z":1.0},{"i":406,"X":0.8,"Y":1.2,"Z":2.0},{"i":407,"X":0.2,"Y":-1.5,"Z":-1.3},{"i":409,"X":-1.0,"Y":1.5,"Z":0.5},{"i":411,"X":-1.85,"Y":0.5,"Z":-1.35},{"i":414,"X":-1.0,"Y":1.2,"Z":0.2},{"i":415,"X":-0.2,"Y":-1.5,"Z":-1.7},{"i":418,"X":1.5,"Y":-1.5,"Z":0.0},{"i":421,"X":2.7,"Y":1.5,"Z":4.2},{"i":422,"X":2.8,"Y":-2.5,"Z":0.3},{"i":425,"X":3.0,"Y":1.8,"Z":4.8},{"i":426,"X":2.95,"Y":0.5,"Z":3.45},{"i":428,"X":2.87,"Y":-0.8,"Z":2.07},{"i":430,"X":2.7,"Y":1.2,"Z":3.9},
{"i":475,"X":12.3,"Y":-0.5,"Z":11.8},{"i":477,"X":12.15,"Y":1.2,"Z":13.35},{"i":479,"X":11.7,"Y":-1.5,"Z":10.2},{"i":481,"X":11.2,"Y":1.0,"Z":12.2},{"i":483,"X":10.75,"Y":-1.5,"Z":9.25},{"i":485,"X":10.4,"Y":1.2,"Z":11.6},{"i":487,"X":9.8,"Y":-1.8,"Z":8.0},{"i":490,"X":9.0,"Y":-2.0,"Z":7.0},{"i":493,"X":7.7,"Y":-1.0,"Z":6.7},{"i":495,"X":6.8,"Y":1.5,"Z":8.3},{"i":496,"X":6.55,"Y":-1.8,"Z":4.75},{"i":498,"X":5.9,"Y":1.2,"Z":7.1},{"i":500,"X":4.75,"Y":-2.0,"Z":2.75},{"i":502,"X":4.0,"Y":1.5,"Z":5.5},{"i":504,"X":2.9,"Y":2.0,"Z":4.9},{"i":505,"X":2.44,"Y":-2.5,"Z":-0.06},{"i":508,"X":1.65,"Y":3.5,"Z":5.15},{"i":510,"X":1.13,"Y":-2.5,"Z":-1.37},{"i":512,"X":0.7,"Y":-1.5,"Z":-0.8},{"i":515,"X":0.1,"Y":-1.0,"Z":-0.9},{"i":518,"X":-0.5,"Y":1.0,"Z":0.5},{"i":520,"X":-1.33,"Y":1.5,"Z":0.17},{"i":522,"X":-2.1,"Y":-1.2,"Z":-3.3},{"i":524,"X":-2.92,"Y":-1.0,"Z":-3.92},{"i":526,"X":-3.6,"Y":1.0,"Z":-2.6},{"i":530,"X":-3.95,"Y":0.5,"Z":-3.45},{"i":533,"X":-3.6,"Y":0.2,"Z":-3.4},{"i":535,"X":-3.21,"Y":-0.8,"Z":-4.01},{"i":536,"X":-2.9,"Y":0.5,"Z":-2.4},{"i":539,"X":-2.1,"Y":0.6,"Z":-1.5},
{"i":574,"X":8.3,"Y":0.5,"Z":8.8},{"i":575,"X":9.0,"Y":-0.8,"Z":8.2},{"i":577,"X":9.97,"Y":0.5,"Z":10.47},{"i":579,"X":10.7,"Y":-0.8,"Z":9.9},{"i":581,"X":11.3,"Y":-1.5,"Z":9.8},{"i":583,"X":12.14,"Y":-2.0,"Z":10.14},{"i":584,"X":12.2,"Y":1.5,"Z":13.7},{"i":586,"X":12.2,"Y":0.5,"Z":12.7},{"i":590,"X":11.85,"Y":-1.5,"Z":10.35},{"i":592,"X":10.8,"Y":-1.5,"Z":9.3},{"i":594,"X":9.97,"Y":2.0,"Z":11.97},{"i":595,"X":9.8,"Y":-1.5,"Z":8.3},{"i":597,"X":9.5,"Y":-1.0,"Z":8.5},{"i":599,"X":8.8,"Y":2.2,"Z":11.0},{"i":601,"X":8.23,"Y":-1.8,"Z":6.43},{"i":602,"X":8.15,"Y":-1.0,"Z":7.15},{"i":605,"X":7.9,"Y":1.5,"Z":9.4},{"i":606,"X":7.7,"Y":-1.5,"Z":6.2},{"i":609,"X":7.2,"Y":1.2,"Z":8.4},{"i":610,"X":7.05,"Y":-1.3,"Z":5.75},{"i":611,"X":6.9,"Y":0.3,"Z":7.2},{"i":614,"X":6.2,"Y":0.8,"Z":7.0},{"i":615,"X":5.9,"Y":-0.6,"Z":5.3},{"i":617,"X":5.25,"Y":-0.5,"Z":4.75},{"i":619,"X":4.55,"Y":0.6,"Z":5.15},{"i":621,"X":3.85,"Y":-0.4,"Z":3.45},{"i":623,"X":2.8,"Y":0.5,"Z":3.3},
{"i":715,"X":8.4,"Y":-1.5,"Z":6.9},{"i":717,"X":8.55,"Y":1.5,"Z":10.05},{"i":718,"X":8.45,"Y":0.8,"Z":9.25},{"i":720,"X":8.37,"Y":-1.5,"Z":6.87},{"i":724,"X":7.0,"Y":-2.5,"Z":4.5},{"i":726,"X":6.05,"Y":-1.5,"Z":4.55},{"i":729,"X":4.95,"Y":2.5,"Z":7.45},{"i":731,"X":4.4,"Y":4.0,"Z":8.4},{"i":732,"X":4.25,"Y":-3.5,"Z":0.75},{"i":735,"X":4.9,"Y":1.0,"Z":5.9},{"i":737,"X":6.4,"Y":-1.5,"Z":4.9},{"i":739,"X":7.8,"Y":2.5,"Z":10.3},{"i":740,"X":8.4,"Y":-1.5,"Z":6.9},{"i":741,"X":9.0,"Y":1.5,"Z":10.5},{"i":744,"X":9.85,"Y":1.5,"Z":11.35},{"i":745,"X":9.95,"Y":-1.2,"Z":8.75},{"i":748,"X":9.55,"Y":-1.0,"Z":8.55},{"i":750,"X":9.1,"Y":1.2,"Z":10.3},{"i":753,"X":7.95,"Y":1.0,"Z":8.95},{"i":755,"X":7.4,"Y":-1.5,"Z":5.9},{"i":757,"X":7.2,"Y":-0.8,"Z":6.4},{"i":759,"X":7.07,"Y":-0.6,"Z":6.47},{"i":762,"X":7.07,"Y":0.8,"Z":7.87},
{"i":819,"X":7.2,"Y":1.0,"Z":8.2},{"i":822,"X":8.3,"Y":0.5,"Z":8.8},{"i":824,"X":8.9,"Y":-1.0,"Z":7.9},{"i":826,"X":9.25,"Y":1.5,"Z":10.75},{"i":828,"X":9.26,"Y":-2.5,"Z":6.76},{"i":830,"X":9.28,"Y":2.5,"Z":11.78},{"i":832,"X":9.3,"Y":3.0,"Z":12.3},{"i":833,"X":9.3,"Y":-4.5,"Z":4.8},{"i":835,"X":9.15,"Y":4.0,"Z":13.15},{"i":837,"X":8.75,"Y":3.0,"Z":11.75},{"i":839,"X":8.15,"Y":3.5,"Z":11.65},{"i":841,"X":7.45,"Y":2.5,"Z":9.95},{"i":843,"X":6.8,"Y":4.0,"Z":10.8},{"i":845,"X":6.3,"Y":2.5,"Z":8.8},{"i":847,"X":5.85,"Y":-1.5,"Z":4.35},{"i":849,"X":5.58,"Y":3.0,"Z":8.58},{"i":850,"X":5.55,"Y":-3.0,"Z":2.55},{"i":852,"X":5.48,"Y":2.0,"Z":7.48},{"i":854,"X":5.35,"Y":2.5,"Z":7.85},{"i":856,"X":5.27,"Y":1.0,"Z":6.27},{"i":859,"X":5.19,"Y":3.0,"Z":8.19},{"i":860,"X":5.4,"Y":1.5,"Z":6.9},{"i":863,"X":5.95,"Y":2.0,"Z":7.95},{"i":865,"X":6.2,"Y":1.5,"Z":7.7},{"i":867,"X":6.5,"Y":-1.0,"Z":5.5},{"i":869,"X":6.7,"Y":1.5,"Z":8.2},{"i":871,"X":6.65,"Y":-1.0,"Z":5.65},{"i":873,"X":6.4,"Y":-1.0,"Z":5.4},{"i":874,"X":6.3,"Y":0.8,"Z":7.1},{"i":876,"X":6.05,"Y":0.6,"Z":6.65},{"i":877,"X":5.95,"Y":-0.5,"Z":5.45},{"i":879,"X":5.65,"Y":0.5,"Z":6.15},{"i":881,"X":5.41,"Y":0.4,"Z":5.81},{"i":882,"X":5.2,"Y":-0.4,"Z":4.8},
{"i":909,"X":0.15,"Y":0.3,"Z":0.45},{"i":911,"X":0.99,"Y":0.4,"Z":1.39},{"i":913,"X":1.2,"Y":-0.5,"Z":0.7},{"i":915,"X":1.38,"Y":-0.6,"Z":0.78},{"i":916,"X":1.42,"Y":0.8,"Z":2.22},{"i":919,"X":2.1,"Y":-1.5,"Z":0.6},{"i":920,"X":2.45,"Y":1.5,"Z":3.95},{"i":922,"X":3.02,"Y":1.0,"Z":4.02},{"i":925,"X":3.3,"Y":1.0,"Z":4.3},{"i":927,"X":3.48,"Y":1.5,"Z":4.98},{"i":929,"X":3.4,"Y":1.2,"Z":4.6},{"i":931,"X":3.15,"Y":1.0,"Z":4.15},{"i":932,"X":3.0,"Y":-1.5,"Z":1.5},{"i":935,"X":2.2,"Y":0.8,"Z":3.0},{"i":936,"X":1.8,"Y":-0.6,"Z":1.2},{"i":938,"X":0.9,"Y":0.5,"Z":1.4},{"i":940,"X":-0.1,"Y":0.4,"Z":0.3},{"i":941,"X":-0.55,"Y":-0.5,"Z":-1.05},{"i":944,"X":-1.8,"Y":0.5,"Z":-1.3},{"i":945,"X":-2.2,"Y":-0.5,"Z":-2.7},{"i":947,"X":-2.8,"Y":0.5,"Z":-2.3},{"i":949,"X":-3.0,"Y":0.6,"Z":-2.4},{"i":952,"X":-2.4,"Y":-0.5,"Z":-2.9},{"i":954,"X":-2.0,"Y":-0.4,"Z":-2.4},{"i":955,"X":-1.7,"Y":0.5,"Z":-1.2},{"i":957,"X":-1.1,"Y":-0.4,"Z":-1.5}
]},
"data": {"name": "d"},
"transform": [{"fold": ["Z", "X", "Y"], "as": ["series", "value"]}],
"spacing": 206,
"bounds": "flush",
"resolve": {"scale": {"color": "shared"}},
"vconcat": [
  {
    "width": 3461, "height": 1021,
    "transform": [{"filter": "datum.series === 'Z'"}],
    "mark": {"type": "line", "clip": true},
    "encoding": {
      "x": {"field": "i", "type": "quantitative", "scale": {"domain": [0, 959], "nice": false, "zero": false}, "axis": {"values": [0, 200, 400, 600, 800], "labels": false, "title": null}},
      "y": {"field": "value", "type": "quantitative", "scale": {"domain": [-9.0, 19.36], "nice": false, "zero": false}, "axis": {"values": [0, 10], "title": "Z", "titleAngle": 270, "titleX": -247, "titleY": 510.5, "titleAlign": "center", "titleBaseline": "alphabetic", "labelPadding": 37, "labelBaseline": "alphabetic", "labelOffset": 34}},
      "color": {"field": "series", "type": "nominal", "scale": {"domain": ["Z", "X", "Y"], "range": ["#a9a9a9", "#ff7f0e", "#1f77b4"]},
        "legend": {"title": null, "orient": "none", "legendX": 994.5, "legendY": -234.5, "direction": "horizontal", "columns": 3, "symbolType": "stroke", "symbolSize": 33489, "symbolStrokeWidth": 15, "clipHeight": 106, "labelFont": "DejaVu Sans", "labelFontSize": 83, "labelColor": "black", "labelOffset": 54.5, "columnPadding": 162, "labelBaseline": "middle"}}
    }
  },
  {
    "width": 3461, "height": 1021,
    "encoding": {
      "x": {"field": "i", "type": "quantitative", "scale": {"domain": [0, 959], "nice": false, "zero": false}, "axis": {"values": [0, 200, 400, 600, 800], "title": "Location (index)", "labelPadding": 103, "labelBaseline": "alphabetic", "titleBaseline": "alphabetic", "titleY": 266, "titleAlign": "center"}},
      "y": {"field": "value", "type": "quantitative", "scale": {"domain": [-8.73, 13.56], "nice": false, "zero": false}, "axis": {"values": [-5, 0, 5, 10], "title": "X, Y", "titleAngle": 270, "titleX": -259, "titleY": 510.5, "titleAlign": "center", "titleBaseline": "alphabetic", "labelPadding": 37, "labelBaseline": "alphabetic", "labelOffset": 34}},
      "color": {"field": "series", "type": "nominal", "scale": {"domain": ["Z", "X", "Y"], "range": ["#a9a9a9", "#ff7f0e", "#1f77b4"]}}
    },
    "layer": [
      {"transform": [{"filter": "datum.series === 'X'"}], "mark": {"type": "line", "clip": true, "interpolate": "monotone"}},
      {"transform": [{"filter": "datum.series === 'Y'"}], "mark": {"type": "line", "clip": true}}
    ]
  }
]
}
